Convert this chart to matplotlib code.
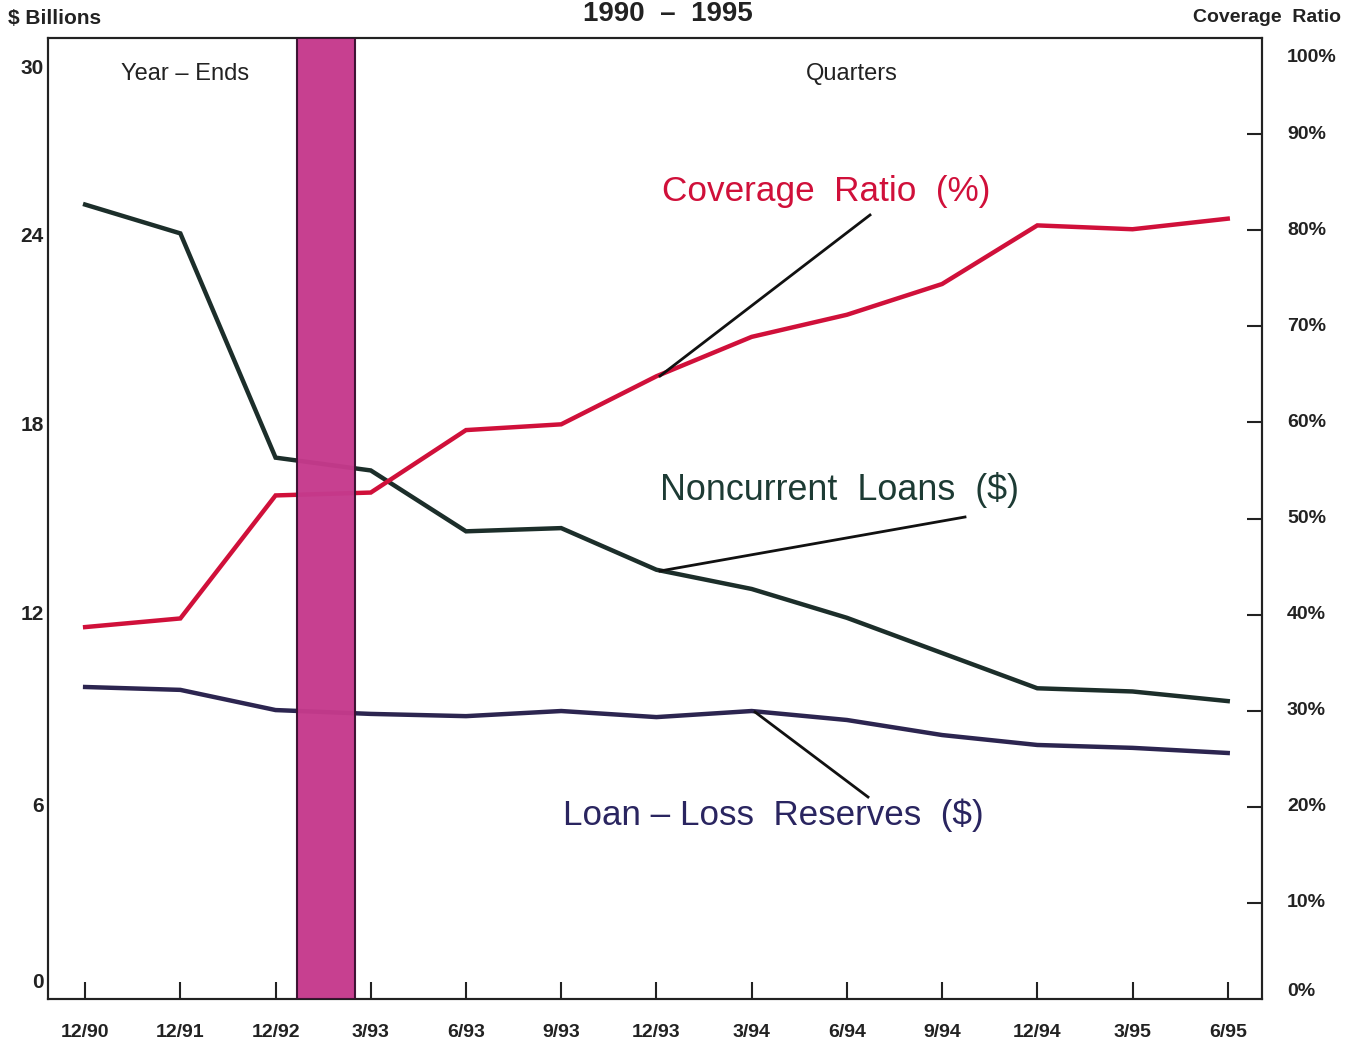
import matplotlib
matplotlib.use("Agg")
import matplotlib.pyplot as plt
import numpy as np

plt.rcParams['font.family'] = ['Liberation Sans', 'DejaVu Sans']

periods = ["12/90", "12/91", "12/92", "3/93", "6/93", "9/93", "12/93",
           "3/94", "6/94", "9/94", "12/94", "3/95", "6/95"]
noncurrent = [24.8, 23.9, 16.9, 16.5, 14.6, 14.7, 13.4, 12.8, 11.9, 10.8, 9.7, 9.6, 9.3]
reserves = [9.74, 9.65, 9.02, 8.9, 8.83, 8.99, 8.8, 8.99, 8.71, 8.24, 7.93, 7.84, 7.68]
coverage = [38.7, 39.6, 52.4, 52.7, 59.2, 59.8, 64.8, 68.9, 71.2, 74.4, 80.5, 80.1, 81.2]

left_ticks = [0, 6, 12, 18, 24, 30]
right_ticks = [0, 10, 20, 30, 40, 50, 60, 70, 80, 90, 100]
right_labels = [f"{v}%" for v in right_ticks]

RED = "#d0103a"
GREEN = "#1c2e2a"
PURPLE = "#2c2550"
INK = "#222222"

W, H = 1356, 1047
fig = plt.figure(figsize=(W / 100, H / 100), dpi=100)
ax = fig.add_axes([48 / W, 1 - 999 / H, (1262 - 48) / W, (999 - 38) / H])
x = np.arange(len(periods))

ax.set_xlim(-0.39, 12.36)
ax.set_ylim(0, 30)
ax2 = ax.twinx()
ax2.set_ylim(0, 100)
ax2.set_xlim(-0.39, 12.36)

ax.plot(x, noncurrent, color=GREEN, lw=3.2, zorder=3, solid_joinstyle="miter")
ax.plot(x, reserves, color=PURPLE, lw=3.2, zorder=3, solid_joinstyle="miter")
ax2.plot(x, coverage, color=RED, lw=3.2, zorder=3, solid_joinstyle="miter")

# break bar between year-ends and quarters (drawn over the lines)
ax2.axvspan(2.23, 2.83, facecolor="#c53a8c", edgecolor="#3a1030", lw=1.5, alpha=0.97, zorder=5)

ax.set_xticks(x)
ax.set_xticklabels(periods, fontsize=14, fontweight="bold", color=INK)
ax.tick_params(axis="x", direction="in", length=12, width=1.5, pad=18, colors=INK)

# left labels (no tick marks); outermost labels nudged inward as in the original
ax.set_yticks(left_ticks)
ax.set_yticklabels([])
ax.tick_params(axis="y", length=0)
left_down = {0: -17, 30: 30, 24: 6, 18: 3}
for v in left_ticks:
    ax.annotate(str(v), xy=(0, v), xycoords=("axes fraction", "data"),
                xytext=(-3, -left_down.get(v, 0) * 0.72), textcoords="offset points",
                ha="right", va="center", fontsize=15, fontweight="bold", color=INK)

ax2.set_yticks(right_ticks)
ax2.set_yticklabels([])
ax2.tick_params(axis="y", direction="in", length=11, width=1.5, colors=INK)
for t in ax2.yaxis.get_major_ticks():
    if t.get_loc() in (0, 100):
        t.tick2line.set_visible(False)
right_down = {0: -7, 100: 19}
for v, lab in zip(right_ticks, right_labels):
    ax2.annotate(lab, xy=(1, v), xycoords=("axes fraction", "data"),
                 xytext=(18, -right_down.get(v, 0) * 0.72), textcoords="offset points",
                 ha="left", va="center", fontsize=14, fontweight="bold", color=INK)

for a in (ax, ax2):
    for s in a.spines.values():
        s.set_linewidth(1.5)
        s.set_color(INK)

# header texts
fig.text(8 / W, 1 - 18 / H, "$ Billions", fontsize=15, fontweight="bold", va="center", ha="left", color=INK)
fig.text(668 / W, 1 - 14 / H, "1990  –  1995", fontsize=20, fontweight="bold", va="center", ha="center", color=INK)
fig.text(1341 / W, 1 - 18 / H, "Coverage  Ratio", fontsize=14, fontweight="bold", va="center", ha="right", color=INK)
fig.text(185 / W, 1 - 74 / H, "Year – Ends", fontsize=17, va="center", ha="center", color=INK)
fig.text(852 / W, 1 - 74 / H, "Quarters", fontsize=17, va="center", ha="center", color=INK)

def px(xp, yp):
    return (xp / W, 1 - yp / H)

fig.text(*px(826, 192), "Coverage  Ratio  (%)", fontsize=25.3, color=RED, va="center", ha="center")
fig.add_artist(plt.Line2D([870 / W, 660 / W], [1 - 215 / H, 1 - 376 / H], color="#111111", lw=2))
fig.text(*px(840, 490), "Noncurrent  Loans  ($)", fontsize=25.8, color="#1d3b34", va="center", ha="center")
fig.add_artist(plt.Line2D([965 / W, 660 / W], [1 - 517 / H, 1 - 571 / H], color="#111111", lw=2))
fig.text(*px(773, 815), "Loan – Loss  Reserves  ($)", fontsize=25.2, color="#2a2560", va="center", ha="center")
fig.add_artist(plt.Line2D([868 / W, 755 / W], [1 - 797 / H, 1 - 712 / H], color="#111111", lw=2))

fig.savefig("out.png", dpi=100)
